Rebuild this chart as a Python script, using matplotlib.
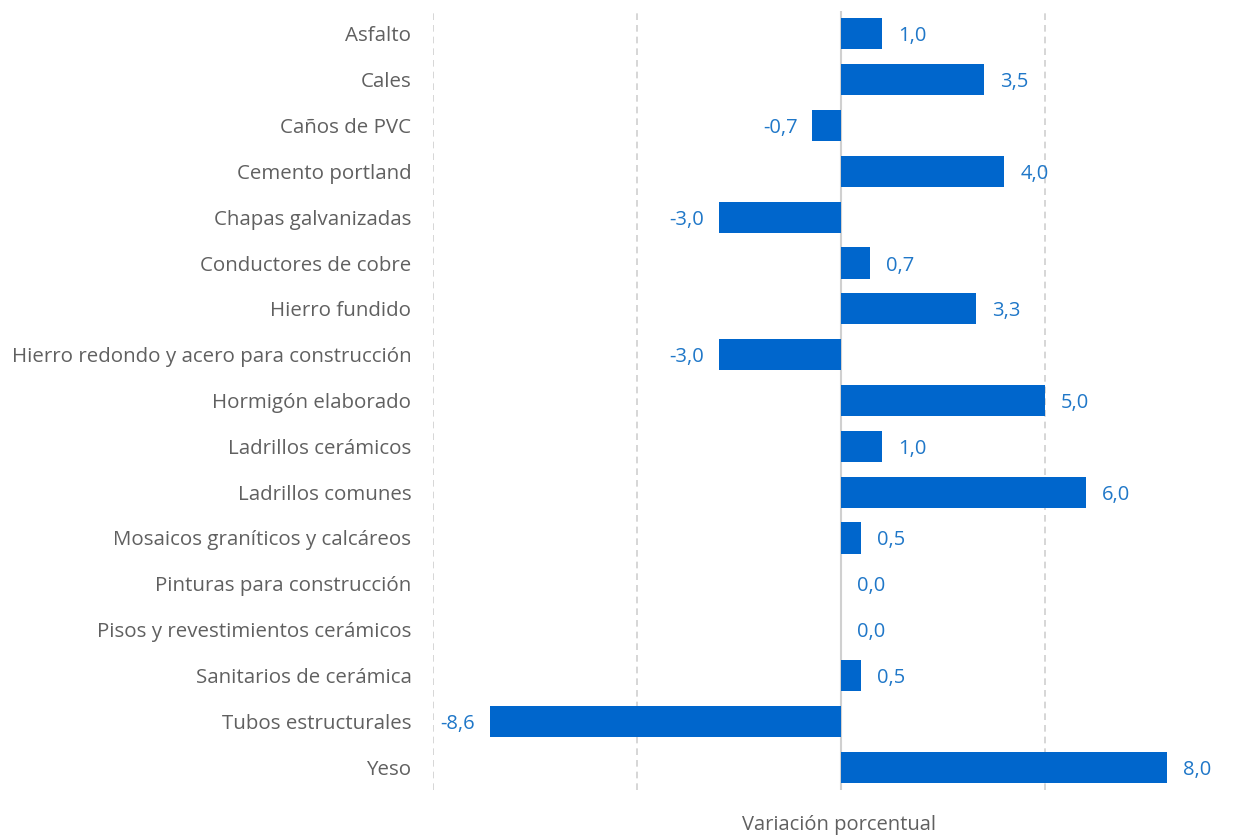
import matplotlib
matplotlib.use("Agg")
import matplotlib.pyplot as plt
from matplotlib.transforms import offset_copy

categories = ["Asfalto", "Cales", "Caños de PVC", "Cemento portland", "Chapas galvanizadas",
              "Conductores de cobre", "Hierro fundido", "Hierro redondo y acero para construcción",
              "Hormigón elaborado", "Ladrillos cerámicos", "Ladrillos comunes",
              "Mosaicos graníticos y calcáreos", "Pinturas para construcción",
              "Pisos y revestimientos cerámicos", "Sanitarios de cerámica",
              "Tubos estructurales", "Yeso"]
values = [1.0, 3.5, -0.7, 4.0, -3.0, 0.7, 3.3, -3.0, 5.0, 1.0, 6.0, 0.5, 0.0, 0.0, 0.5, -8.6, 8.0]
grid_ticks = [-10, -5, 5]
xlabel = "Variación porcentual"

plt.rcParams['font.family'] = ['Open Sans', 'DejaVu Sans']

W, H = 1245, 840
fig = plt.figure(figsize=(W / 100, H / 100), dpi=100)
ax = fig.add_axes([433 / W, 1 - 790 / H, (1245 - 433) / W, 779 / H])

bar_color = "#0066cc"
label_color = "#1f77c8"
text_color = "#606060"
y = list(range(len(categories)))
ax.barh(y, values, height=0.68, color=bar_color, zorder=3)
ax.set_xlim(-10, 9.9)
ax.set_ylim(len(categories) - 0.5, -0.5)

for xv in grid_ticks:
    ax.axvline(xv, color="#d0d0d0", lw=1.2, ls=(0, (4, 3)), zorder=1)
ax.axvline(0, color="#d0d0d0", lw=1.5, zorder=2)

for yi, v in zip(y, values):
    txt = f"{v:.1f}".replace(".", ",")
    if v >= 0:
        tr = offset_copy(ax.transData, fig=fig, x=16, y=0, units="dots")
        ha = "left"
    else:
        tr = offset_copy(ax.transData, fig=fig, x=-15, y=0, units="dots")
        ha = "right"
    ax.text(v, yi, txt, transform=tr, ha=ha, va="center_baseline", fontsize=14.5, color=label_color)

ax.set_yticks(y)
ax.set_yticklabels(categories, fontsize=14.75, color=text_color)
ax.tick_params(axis="y", length=0, pad=15.5)
ax.set_xticks([])
for s in ax.spines.values():
    s.set_visible(False)

fig.text(839 / W, 1 - 825 / H, xlabel, ha="center", va="center", fontsize=14.5, color=text_color)

fig.savefig("out.png", dpi=100)
